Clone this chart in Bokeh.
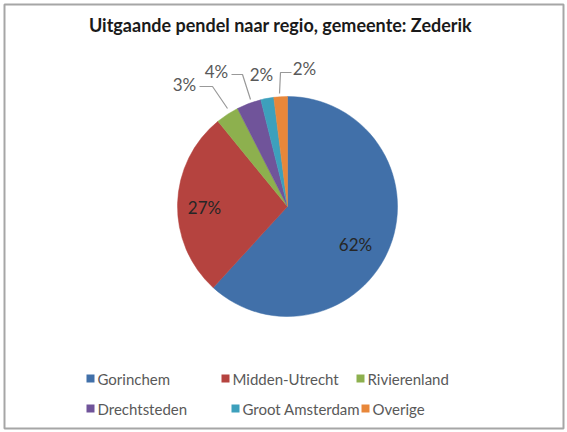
import math
from bokeh.plotting import figure
from bokeh.models import Range1d, ColumnDataSource
from bokeh.core.properties import value
from bokeh.embed import file_html
from bokeh.resources import INLINE

# ---- data ----
title = "Uitgaande pendel naar regio, gemeente: Zederik"
regions = ["Gorinchem", "Midden-Utrecht", "Rivierenland",
           "Drechtsteden", "Groot Amsterdam", "Overige"]
shares = [61.8, 27.3, 3.4, 3.6, 1.9, 2.0]
labels = ["62%", "27%", "3%", "4%", "2%", "2%"]
colors = ["#4170A9", "#B5433F", "#8DB04E", "#70549A", "#3DA0BC", "#E8873A"]

# ---- layout (reference pixel coordinates, y measured from top) ----
W, H = 567, 432
def Y(v):
    return H - v

FONT = "Lato"
cx, cy, R = 287, Y(206), 110
label_pos = [(355, 244), (204, 207), (184, 84), (216, 71), (261, 74), (304, 68)]
label_col = ["#262626", "#262626", "#595959", "#595959", "#595959", "#595959"]
leaders = [
    [(199, 86), (212, 86), (227, 108)],
    [(231, 74), (242, 74), (250, 99)],
    [(291, 72), (280, 72), (279, 93)],
]
legend_sq = [(90, 378), (225, 378), (360, 378), (90, 408), (235, 408), (365, 408)]

p = figure(width=W, height=H, x_range=Range1d(0, W), y_range=Range1d(0, H),
           output_backend="svg", toolbar_location=None, min_border=0,
           x_axis_location=None, y_axis_location=None)
p.grid.visible = False
p.outline_line_color = None
p.background_fill_color = "white"
p.border_fill_color = "white"

# chart border
p.quad(left=[4], right=[563], top=[Y(4)], bottom=[Y(428)], fill_color=None,
       line_color="#A6A6A6", line_width=2)

# slices, clockwise from 12 o'clock
total = sum(shares)
starts, ends = [], []
cum = 0.0
for s in shares:
    starts.append(math.pi / 2 - 2 * math.pi * cum / total)
    cum += s
    ends.append(math.pi / 2 - 2 * math.pi * cum / total)
src = ColumnDataSource(dict(start=starts, end=ends, color=colors, name=regions))
p.wedge(x=cx, y=cy, radius=R, start_angle="start", end_angle="end", direction="clock",
        fill_color="color", line_color="color", line_width=0.5, source=src)

# leader lines
p.multi_line(xs=[[a for a, b in l] for l in leaders], ys=[[Y(b) for a, b in l] for l in leaders],
             line_color="#999999", line_width=1.2)

# data labels
p.text(x=[a for a, b in label_pos], y=[Y(b) for a, b in label_pos], text=labels,
       text_color=label_col, text_font=value(FONT), text_font_size="17px",
       text_align="center", text_baseline="middle")

# title
p.text(x=[280], y=[Y(24)], text=[title], text_font=value(FONT), text_font_style="bold",
       text_font_size="18px", text_color="#1A1A1A", text_align="center", text_baseline="middle")

# legend
p.scatter(x=[a for a, b in legend_sq], y=[Y(b) for a, b in legend_sq], marker="square",
          size=8, fill_color=colors, line_color=None)
p.text(x=[a + 7 for a, b in legend_sq], y=[Y(b) for a, b in legend_sq], text=regions,
       text_font=value(FONT), text_font_size="15px", text_color="#595959",
       text_align="left", text_baseline="middle")

open("out.html", "w").write(file_html(p, INLINE))
